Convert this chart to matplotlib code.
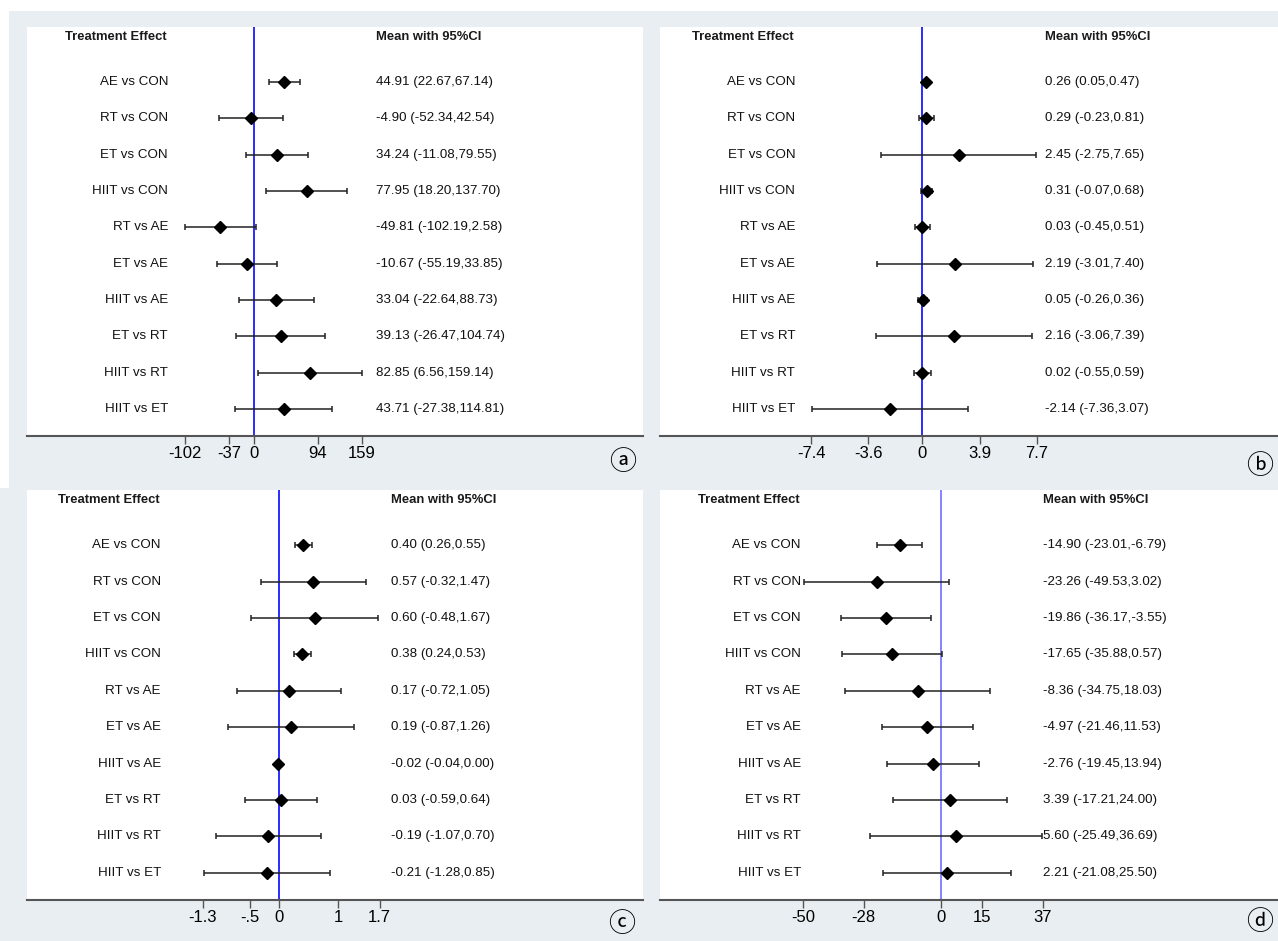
import matplotlib.pyplot as plt
from matplotlib.patches import Rectangle

plt.rcParams['font.family'] = ['Liberation Sans', 'DejaVu Sans']

comparisons = ["AE vs CON", "RT vs CON", "ET vs CON", "HIIT vs CON", "RT vs AE",
               "ET vs AE", "HIIT vs AE", "ET vs RT", "HIIT vs RT", "HIIT vs ET"]

# panel a
mean_a = [44.91, -4.90, 34.24, 77.95, -49.81, -10.67, 33.04, 39.13, 82.85, 43.71]
low_a = [22.67, -52.34, -11.08, 18.20, -102.19, -55.19, -22.64, -26.47, 6.56, -27.38]
high_a = [67.14, 42.54, 79.55, 137.70, 2.58, 33.85, 88.73, 104.74, 159.14, 114.81]
ticks_a = [-102, -37, 0, 94, 159]
ticklabels_a = ["-102", "-37", "0", "94", "159"]

# panel b
mean_b = [0.26, 0.29, 2.45, 0.31, 0.03, 2.19, 0.05, 2.16, 0.02, -2.14]
low_b = [0.05, -0.23, -2.75, -0.07, -0.45, -3.01, -0.26, -3.06, -0.55, -7.36]
high_b = [0.47, 0.81, 7.65, 0.68, 0.51, 7.40, 0.36, 7.39, 0.59, 3.07]
ticks_b = [-7.4, -3.6, 0, 3.9, 7.7]
ticklabels_b = ["-7.4", "-3.6", "0", "3.9", "7.7"]

# panel c
mean_c = [0.40, 0.57, 0.60, 0.38, 0.17, 0.19, -0.02, 0.03, -0.19, -0.21]
low_c = [0.26, -0.32, -0.48, 0.24, -0.72, -0.87, -0.04, -0.59, -1.07, -1.28]
high_c = [0.55, 1.47, 1.67, 0.53, 1.05, 1.26, 0.00, 0.64, 0.70, 0.85]
ticks_c = [-1.3, -0.5, 0, 1, 1.7]
ticklabels_c = ["-1.3", "-.5", "0", "1", "1.7"]

# panel d
mean_d = [-14.90, -23.26, -19.86, -17.65, -8.36, -4.97, -2.76, 3.39, 5.60, 2.21]
low_d = [-23.01, -49.53, -36.17, -35.88, -34.75, -21.46, -19.45, -17.21, -25.49, -21.08]
high_d = [-6.79, 3.02, -3.55, 0.57, 18.03, 11.53, 13.94, 24.00, 36.69, 25.50]
ticks_d = [-50, -28, 0, 15, 37]
ticklabels_d = ["-50", "-28", "0", "15", "37"]

bg = "#e8eef1"
W, H = 1278, 941
fig = plt.figure(figsize=(W / 100, H / 100), dpi=100, facecolor=bg)
# white strip along top and left edge of upper half
fig.patches.append(Rectangle((0, 1 - 11 / H), 1, 11 / H, transform=fig.transFigure,
                             facecolor="white", edgecolor="none", zorder=0))
fig.patches.append(Rectangle((0, 1 - 488 / H), 9 / W, 477 / H, transform=fig.transFigure,
                             facecolor="white", edgecolor="none", zorder=0))

# (pixel box, xlim, text x positions in axes fraction, ref line colour, letter, letter pos)
panels = [
    ((27, 27, 643, 436), (-334.8, 573.7), (0.0617, 0.229, 0.567), "#1a1aff", "\u24d0", (623, 463),
     mean_a, low_a, high_a, ticks_a, ticklabels_a),
    ((660, 27, 1278, 436), (-17.54, 23.83), (0.0518, 0.219, 0.623), "#1a1aff", "\u24d1", (1260, 466),
     mean_b, low_b, high_b, ticks_b, ticklabels_b),
    ((27, 490, 643, 900), (-4.276, 6.16), (0.0503, 0.2175, 0.591), "#1a1aff", "\u24d2", (622, 925),
     mean_c, low_c, high_c, ticks_c, ticklabels_c),
    ((660, 490, 1278, 900), (-101.8, 122.3), (0.0615, 0.228, 0.620), "#7a7aff", "\u24d3", (1260, 923),
     mean_d, low_d, high_d, ticks_d, ticklabels_d),
]

rows = list(range(1, len(comparisons) + 1))

for box, xlim, tx, refc, letter, lpos, m, lo, hi, tks, tkl in panels:
    x0, y0, x1, y1 = box
    ax = fig.add_axes([x0 / W, 1 - y1 / H, (x1 - x0) / W, (y1 - y0) / H])
    ax.set_facecolor("white")
    ax.set_xlim(*xlim)
    ax.set_ylim(10.744, -0.514)

    ax.axvline(0, color=refc, lw=1.3, zorder=1)
    err = [[mi - l for mi, l in zip(m, lo)], [h - mi for mi, h in zip(m, hi)]]
    ax.errorbar(m, rows, xerr=err, fmt="D", color="black", ecolor="#222222",
                elinewidth=1.1, capsize=2.3, capthick=1.1, markersize=6, zorder=3)

    tr = ax.get_yaxis_transform()
    ax.text(tx[0], -0.24, "Treatment Effect", transform=tr, ha="left", va="center",
            fontsize=9.4, fontweight="bold", color="#1a1a1a")
    ax.text(tx[2], -0.24, "Mean with 95%CI", transform=tr, ha="left", va="center",
            fontsize=9.4, fontweight="bold", color="#1a1a1a")
    for r, name, mi, l, h in zip(rows, comparisons, m, lo, hi):
        ax.text(tx[1], r, name, transform=tr, ha="right", va="center", fontsize=9.6, color="#111111")
        ax.text(tx[2], r, f"{mi:.2f} ({l:.2f},{h:.2f})", transform=tr, ha="left", va="center",
                fontsize=9.6, color="#111111")

    for s in ["top", "left", "right"]:
        ax.spines[s].set_visible(False)
    ax.spines["bottom"].set_color("#555555")
    ax.spines["bottom"].set_linewidth(1.5)
    ax.set_yticks([])
    ax.set_xticks(tks)
    ax.set_xticklabels(tkl, fontsize=12)
    ax.tick_params(axis="x", length=6, width=1, color="#555555", pad=1)

    fig.text(lpos[0] / W, 1 - lpos[1] / H, letter, ha="center", va="center",
             fontsize=19.5, family=["Noto Sans CJK JP", "DejaVu Sans"], color="black")

fig.savefig("out.png", dpi=100, facecolor=bg)
